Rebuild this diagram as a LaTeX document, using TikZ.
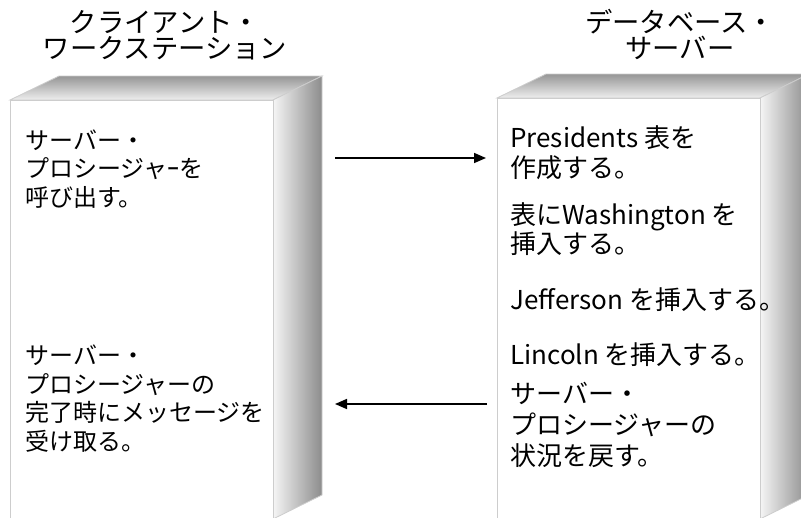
\documentclass[tikz,border=0pt]{standalone}
\usepackage{fontspec}
\setmainfont{Noto Sans CJK JP}
\usetikzlibrary{arrows.meta, calc}
\definecolor{cEdge}{RGB}{205, 205, 205}
\definecolor{cTopDark}{RGB}{150, 150, 150}
\definecolor{cTopLight}{RGB}{238, 238, 238}
\definecolor{cSideLight}{RGB}{245, 245, 245}
\definecolor{cSideDark}{RGB}{140, 140, 140}
\definecolor{tDark}{RGB}{0, 0, 0}

\begin{document}
\begin{tikzpicture}[
    x=0.75pt, y=-0.75pt,
    >={Triangle[length=9pt, width=7.5pt]},
    title/.style={font=\fontsize{20.5}{19.5}\selectfont, align=center, inner sep=0pt, text=tDark},
    note/.style={font=\fontsize{18}{21.4}\selectfont, align=left, anchor=west, inner sep=0pt, text=tDark},
    snote/.style={font=\fontsize{19.5}{#1}\selectfont, align=left, anchor=west, inner sep=0pt, text=tDark},
    snote/.default=22.5pt,
    face/.style={draw=cEdge, line width=0.6pt, fill=white},
    arrow/.style={->, line width=1.2pt, color=tDark}
]
\useasboundingbox (0,0) rectangle (801,518);

% Slabs: client workstation (c) and database server (s)
\foreach \nm/\xa/\ya/\xb in {c/10/100/273, s/497/98/760} {
    \coordinate (\nm NW) at (\xa,\ya);
    \coordinate (\nm SE) at (\xb,519);
    \shadedraw[top color=cTopDark, bottom color=cTopLight, draw=cEdge, line width=0.6pt]
        (\nm NW) -- ++(49,-24) -- ($(\nm NW -| \nm SE)+(49,-24)$) -- (\nm NW -| \nm SE) -- cycle;
    \shadedraw[left color=cSideLight, right color=cSideDark, draw=cEdge, line width=0.6pt]
        (\nm NW -| \nm SE) -- ++(49,-24) -- ($(\nm SE)+(49,-24)$) -- (\nm SE) -- cycle;
    \draw[face] (\nm NW) rectangle (\nm SE);
}

% Titles
\node[title] (tClient) at (165,35) {クライアント・\\ワークステーション};
\node[title] (tServer) at (680,34.5) {データベース・\\サーバー};

% Client side
\node[note] (callText) at (25,169) {サーバー・\\プロシージャｰを\\呼び出す。};
\node[note] (recvText) at (25,398.5) {サーバー・\\プロシージャーの\\完了時にメッセージを\\受け取る。};

% Server side
\node[snote] (createText) at (510,153) {Presidents 表を\\作成する。};
\node[snote=21pt] (washText) at (510,229) {表にWashington を\\挿入する。};
\node[snote] (jeffText) at (510,300) {Jefferson を挿入する。};
\node[snote] (lincText) at (510,355) {Lincoln を挿入する。};
\node[snote=23pt] (returnText) at (510,425) {サーバー・\\プロシージャーの\\状況を戻す。};

% Messages
\coordinate (callFrom) at (335,158);
\coordinate (callTo) at (486,158);
\coordinate (backFrom) at (487,404);
\coordinate (backTo) at (335,404);
\draw[arrow] (callFrom) -- (callTo);
\draw[arrow] (backFrom) -- (backTo);

\end{tikzpicture}
\end{document}
